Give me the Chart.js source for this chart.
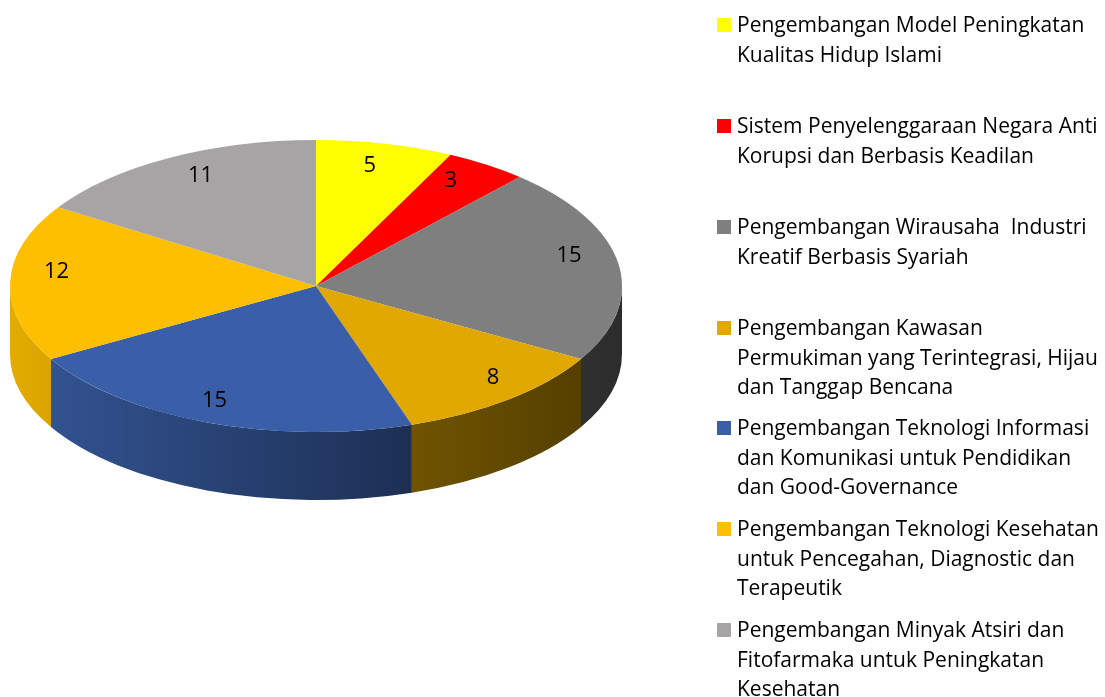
<!DOCTYPE html>
<html>
<head>
<meta charset="utf-8">
<script src="https://cdn.jsdelivr.net/npm/chart.js@4.4.1/dist/chart.umd.min.js"></script>
<style>
  body { margin: 0; background: #fff; }
  #wrap { position: relative; width: 1105px; height: 697px; }
  #pie { position: absolute; left: 0; top: 0; }
  .item { position: absolute; left: 717px; font-family: "Open Sans", sans-serif; font-size: 21px; line-height: 29.5px; color: #000; white-space: pre; }
  .item .box { position: absolute; left: 0; top: 8px; width: 14px; height: 14px; }
  .item .txt { position: absolute; left: 20px; top: 0; }
</style>
</head>
<body>
<div id="wrap">
  <canvas id="pie" width="1105" height="697"></canvas>
</div>
<script>
const categories = [
    ["Pengembangan Model Peningkatan", "Kualitas Hidup Islami"],
    ["Sistem Penyelenggaraan Negara Anti", "Korupsi dan Berbasis Keadilan"],
    ["Pengembangan Wirausaha  Industri", "Kreatif Berbasis Syariah"],
    ["Pengembangan Kawasan", "Permukiman yang Terintegrasi, Hijau", "dan Tanggap Bencana"],
    ["Pengembangan Teknologi Informasi", "dan Komunikasi untuk Pendidikan", "dan Good-Governance"],
    ["Pengembangan Teknologi Kesehatan", "untuk Pencegahan, Diagnostic dan", "Terapeutik"],
    ["Pengembangan Minyak Atsiri dan", "Fitofarmaka untuk Peningkatan", "Kesehatan"]
];
const values = [5, 3, 15, 8, 15, 12, 11];
const colors = ["#FFFF00", "#FF0000", "#7F7F7F", "#E0A800", "#3A5FA8", "#FDBF00", "#A6A4A4"];

// ellipse of the tilted pie (screen pixels)
const CX = 316, CY = 286, RX = 306, RY = 146, DEPTH = 68;

function shade(hex, f) {
    const n = parseInt(hex.slice(1), 16);
    const r = Math.round(((n >> 16) & 255) * f);
    const g = Math.round(((n >> 8) & 255) * f);
    const b = Math.round((n & 255) * f);
    return "rgb(" + r + "," + g + "," + b + ")";
}

// rough perspective for label placement (far side squeezed)
function project(angle, r) {
    const s = Math.cos(angle) * r;   // right
    const c = -Math.sin(angle) * r;  // away from viewer
    const d = 1 + 0.11 * c;
    return [CX + RX * s / d, 275 - 144 * c / d];
}

const tiltPlugin = {
    id: "tilt",
    beforeDatasetsDraw(chart) {
        const ctx = chart.ctx;
        const arcs = chart.getDatasetMeta(0).data;
        // side walls, front half only
        arcs.forEach(function(arc, i) {
            const a0 = Math.max(arc.startAngle, 0);
            const a1 = Math.min(arc.endAngle, Math.PI);
            if (a0 >= a1) return;
            const grad = ctx.createLinearGradient(CX - RX, 0, CX + RX, 0);
            grad.addColorStop(0, shade(colors[i], 0.9));
            grad.addColorStop(0.65, shade(colors[i], 0.5));
            grad.addColorStop(1, shade(colors[i], 0.35));
            ctx.save();
            ctx.beginPath();
            ctx.ellipse(CX, CY, RX, RY, 0, a0, a1);
            ctx.lineTo(CX + RX * Math.cos(a1), CY + DEPTH + RY * Math.sin(a1));
            ctx.ellipse(CX, CY + DEPTH, RX, RY, 0, a1, a0, true);
            ctx.closePath();
            ctx.fillStyle = grad;
            ctx.fill();
            ctx.restore();
        });
        const a = arcs[0];
        ctx.save();
        ctx.translate(CX, CY);
        ctx.scale(RX / a.outerRadius, RY / a.outerRadius);
        ctx.translate(-a.x, -a.y);
    },
    afterDatasetsDraw(chart) {
        const ctx = chart.ctx;
        ctx.restore();
        const arcs = chart.getDatasetMeta(0).data;
        ctx.save();
        ctx.font = "22px 'Open Sans'";
        ctx.fillStyle = "#000";
        ctx.textAlign = "center";
        ctx.textBaseline = "middle";
        arcs.forEach(function(arc, i) {
            const mid = (arc.startAngle + arc.endAngle) / 2;
            const p = project(mid, 0.85);
            ctx.fillText(String(values[i]), p[0], p[1]);
        });
        ctx.restore();
    }
};

new Chart(document.getElementById("pie").getContext("2d"), {
    type: "pie",
    data: {
        labels: categories.map(function(c) { return c.join(" "); }),
        datasets: [{
            data: values,
            backgroundColor: colors,
            borderWidth: 0,
            clip: false
        }]
    },
    options: {
        responsive: false,
        animation: false,
        plugins: {
            legend: { display: false },
            tooltip: { enabled: false }
        }
    },
    plugins: [tiltPlugin]
});

// legend on the right, one entry every ~101px
const wrap = document.getElementById("wrap");
categories.forEach(function(lines, i) {
    const item = document.createElement("div");
    item.className = "item";
    item.style.top = Math.round(25 + i * 100.8 - 14.75) + "px";
    const box = document.createElement("span");
    box.className = "box";
    box.style.background = colors[i];
    const txt = document.createElement("span");
    txt.className = "txt";
    txt.textContent = lines.join("\n");
    item.appendChild(box);
    item.appendChild(txt);
    wrap.appendChild(item);
});
</script>
</body>
</html>
